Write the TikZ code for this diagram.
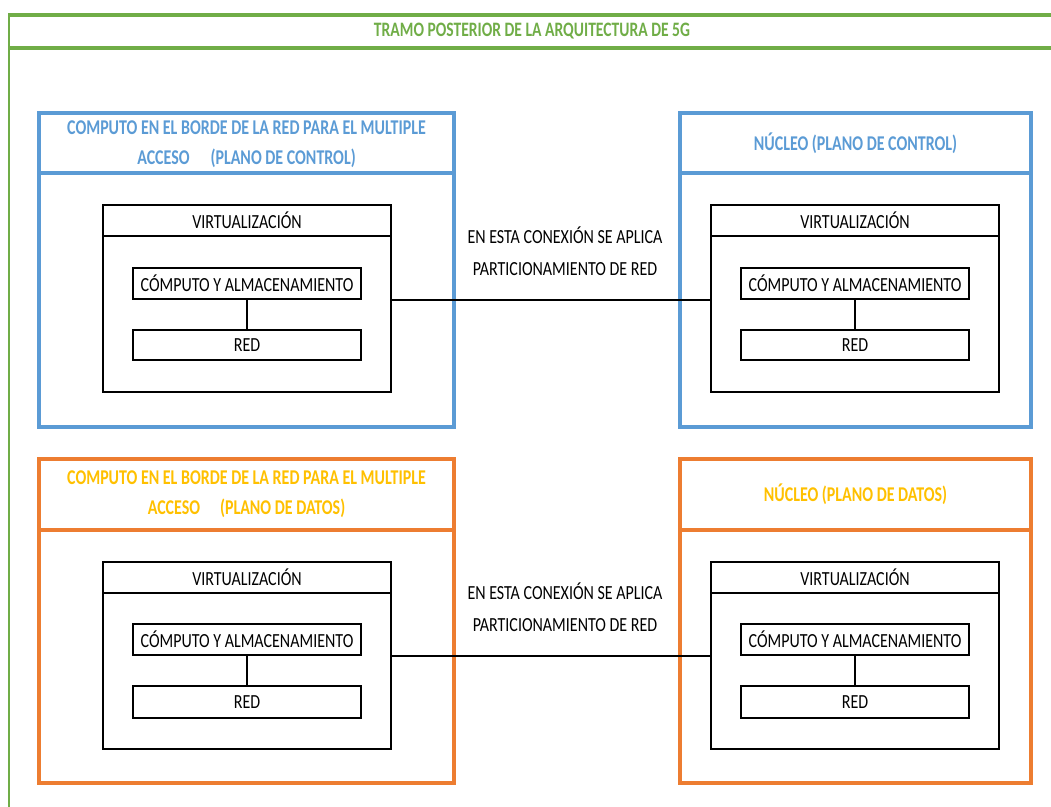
\documentclass[tikz,border=0pt]{standalone}
\usepackage{fontspec}
\setmainfont{Carlito}[FakeStretch=0.80]
\newfontfamily\headfont{Carlito}[FakeStretch=0.76]
\definecolor{frameGreen}{HTML}{70AD47}
\definecolor{ctlBlue}{HTML}{5B9BD5}
\definecolor{dataOrange}{HTML}{ED7D31}
\definecolor{dataYellow}{HTML}{FFC000}
\tikzset{
  plane/.style={draw, line width=3.5pt, minimum width=#1, inner sep=0pt, anchor=north},
  layer/.style={draw=black, line width=2pt, minimum width=#1, inner sep=0pt, anchor=north, font=\fontsize{20}{22}\selectfont},
  link/.style={draw=black, line width=2pt},
  headtxt/.style={font=\headfont\bfseries\fontsize{21}{30}\selectfont, align=center, inner sep=0pt},
  note/.style={font=\fontsize{20}{32}\selectfont, align=center, inner sep=0pt}
}
\begin{document}
\begin{tikzpicture}[x=1pt,y=-1pt]
\useasboundingbox (0,0) rectangle (1051,806);
\clip (0,0) rectangle (1051,806);

% outer green frame with title band
\draw[frameGreen, line width=2pt] (9,820) -- (9,15);
\draw[frameGreen, line width=3.5pt] (8,15) -- (1060,15);
\draw[frameGreen, line width=4pt] (8,47.5) -- (1060,47.5);
\node[font=\headfont\bfseries\fontsize{20.5}{22}\selectfont, text=frameGreen] (title) at (532,31) {TRAMO POSTERIOR DE LA ARQUITECTURA DE 5G};

% ---------- control plane ----------
\node[plane=415pt, draw=ctlBlue, minimum height=60pt] (ecH) at (246.5,111) {};
\node[plane=415pt, draw=ctlBlue, minimum height=254pt] (ecB) at (246.5,171) {};
\node[headtxt, text=ctlBlue] (ecT) at (246.5,144) {COMPUTO EN EL BORDE DE LA RED PARA EL MULTIPLE\\ACCESO\hspace{21pt}(PLANO DE CONTROL)};

\node[plane=351pt, draw=ctlBlue, minimum height=60pt] (ncH) at (855.5,111) {};
\node[plane=351pt, draw=ctlBlue, minimum height=254pt] (ncB) at (855.5,171) {};
\node[headtxt, text=ctlBlue] (ncT) at (855.5,143) {NÚCLEO (PLANO DE CONTROL)};

% virtualization stack, edge side
\node[layer=288pt, minimum height=31pt] (evH1) at (247,204) {VIRTUALIZACIÓN};
\node[layer=288pt, minimum height=156pt] (evB1) at (247,235) {};
\node[layer=228pt, minimum height=31pt] (ecs1) at (247,267) {CÓMPUTO Y ALMACENAMIENTO};
\node[layer=228pt, minimum height=30pt] (ern1) at (247,329) {RED};
\draw[link] (ecs1.south) -- (ern1.north);

% virtualization stack, core side
\node[layer=288pt, minimum height=31pt] (cvH1) at (855,204) {VIRTUALIZACIÓN};
\node[layer=288pt, minimum height=156pt] (cvB1) at (855,235) {};
\node[layer=228pt, minimum height=31pt] (ccs1) at (855,267) {CÓMPUTO Y ALMACENAMIENTO};
\node[layer=228pt, minimum height=30pt] (crn1) at (855,329) {RED};
\draw[link] (ccs1.south) -- (crn1.north);

\draw[link] (evB1.east |- ecs1.south) -- (cvB1.west |- ccs1.south);
\node[note] (slice1) at (565,251) {EN ESTA CONEXIÓN SE APLICA\\PARTICIONAMIENTO DE RED};

% ---------- data plane ----------
\node[plane=415pt, draw=dataOrange, minimum height=71pt] (edH) at (246.5,457) {};
\node[plane=415pt, draw=dataOrange, minimum height=253pt] (edB) at (246.5,528) {};
\node[headtxt, text=dataYellow] (edT) at (246.5,494) {COMPUTO EN EL BORDE DE LA RED PARA EL MULTIPLE\\ACCESO\hspace{20pt}(PLANO DE DATOS)};

\node[plane=351pt, draw=dataOrange, minimum height=71pt] (ndH) at (855.5,457) {};
\node[plane=351pt, draw=dataOrange, minimum height=253pt] (ndB) at (855.5,528) {};
\node[headtxt, text=dataYellow] (ndT) at (855.5,494) {NÚCLEO (PLANO DE DATOS)};

% virtualization stack, edge side
\node[layer=288pt, minimum height=31pt] (evH2) at (247,561) {VIRTUALIZACIÓN};
\node[layer=288pt, minimum height=156pt] (evB2) at (247,592) {};
\node[layer=228pt, minimum height=31pt] (ecs2) at (247,623) {CÓMPUTO Y ALMACENAMIENTO};
\node[layer=228pt, minimum height=32pt] (ern2) at (247,685) {RED};
\draw[link] (ecs2.south) -- (ern2.north);

% virtualization stack, core side
\node[layer=288pt, minimum height=31pt] (cvH2) at (855,561) {VIRTUALIZACIÓN};
\node[layer=288pt, minimum height=156pt] (cvB2) at (855,592) {};
\node[layer=228pt, minimum height=31pt] (ccs2) at (855,623) {CÓMPUTO Y ALMACENAMIENTO};
\node[layer=228pt, minimum height=32pt] (crn2) at (855,685) {RED};
\draw[link] (ccs2.south) -- (crn2.north);

\draw[link] (evB2.east |- ecs2.south) -- (cvB2.west |- ccs2.south);
\node[note] (slice2) at (565,607) {EN ESTA CONEXIÓN SE APLICA\\PARTICIONAMIENTO DE RED};
\end{tikzpicture}
\end{document}
